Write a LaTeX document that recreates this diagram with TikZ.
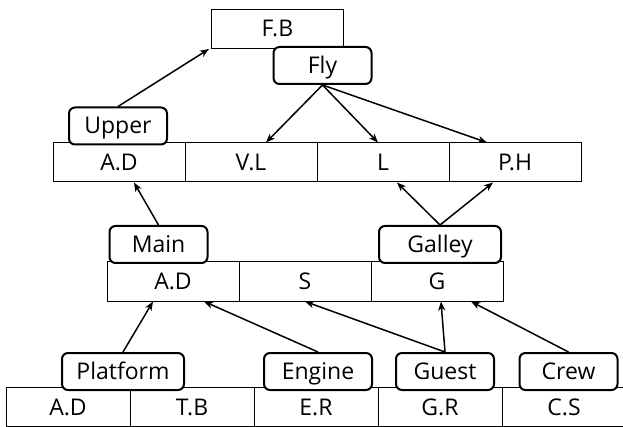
\documentclass[tikz,border=0pt]{standalone}
\usepackage{fontspec}
\setmainfont{Open Sans}
\usetikzlibrary{arrows.meta}

\tikzset{
	cell/.style={draw, rectangle, line width=1pt, minimum width=132pt, minimum height=39pt, inner sep=0pt, text height=16pt, text depth=0pt, font=\fontsize{23}{23}\selectfont},
	tag/.style={draw, rectangle, rounded corners=6pt, line width=2pt, fill=white, minimum width=98pt, minimum height=37pt, inner sep=0pt, text height=16pt, text depth=0pt, font=\fontsize{23}{23}\selectfont},
	link/.style={-{Stealth[length=9pt,width=7pt,inset=2.5pt]}, line width=1.5pt}
}

\begin{document}
\begin{tikzpicture}[x=1pt, y=-1pt]
	\useasboundingbox (0,0) rectangle (623,427);
	% top box
	\node[cell] (fb) at (277.5,29) {F.B};
	% second row
	\node[cell] (r2ad) at (119,162.5) {A.D};
	\node[cell] (r2vl) at (251,162.5) {V.L};
	\node[cell] (r2l) at (383,162.5) {L};
	\node[cell] (r2ph) at (515,162.5) {P.H};
	% third row
	\node[cell] (r3ad) at (173,281.5) {A.D};
	\node[cell] (r3s) at (305,281.5) {S};
	\node[cell] (r3g) at (437,281.5) {G};
	% bottom row, runs off the right edge
	\node[cell, minimum width=124pt] (r4ad) at (68,407) {A.D};
	\node[cell, minimum width=124pt] (r4tb) at (192,407) {T.B};
	\node[cell, minimum width=124pt] (r4er) at (316,407) {E.R};
	\node[cell, minimum width=124pt] (r4gr) at (440,407) {G.R};
	\node[cell, minimum width=124pt] (r4cs) at (564,407) {C.S};

	% rounded tags sit over the rows
	\node[tag] (fly) at (322.5,65.5) {Fly};
	\node[tag] (upper) at (118,126) {Upper};
	\node[tag] (main) at (158.5,244.5) {Main};
	\node[tag, minimum width=122pt] (galley) at (440,244.5) {Galley};
	\node[tag, minimum width=122pt] (platform) at (123,371.5) {Platform};
	\node[tag, minimum width=108pt] (engine) at (318,371.5) {Engine};
	\node[tag] (guest) at (445,371.5) {Guest};
	\node[tag] (crew) at (568.5,371.5) {Crew};

	% arrows
	\draw[link] (upper.north) -- ([xshift=-2pt]fb.south west);
	\draw[link] (fly.south) -- ([xshift=15pt]r2vl.north);
	\draw[link] (fly.south) -- ([xshift=-5pt]r2l.north);
	\draw[link] (fly.south) -- ([xshift=-28pt]r2ph.north);
	\draw[link] (main.north) -- ([xshift=15pt]r2ad.south);
	\draw[link] (galley.north) -- ([xshift=14pt]r2l.south);
	\draw[link] (galley.north) -- ([xshift=-22pt]r2ph.south);
	\draw[link] (platform.north) -- ([xshift=-20pt]r3ad.south);
	\draw[link] (engine.north) -- ([xshift=31pt]r3ad.south);
	\draw[link] (guest.north) -- (r3s.south);
	\draw[link] (guest.north) -- ([xshift=4pt]r3g.south);
	\draw[link] (crew.north) -- ([xshift=34pt]r3g.south);
\end{tikzpicture}
\end{document}
